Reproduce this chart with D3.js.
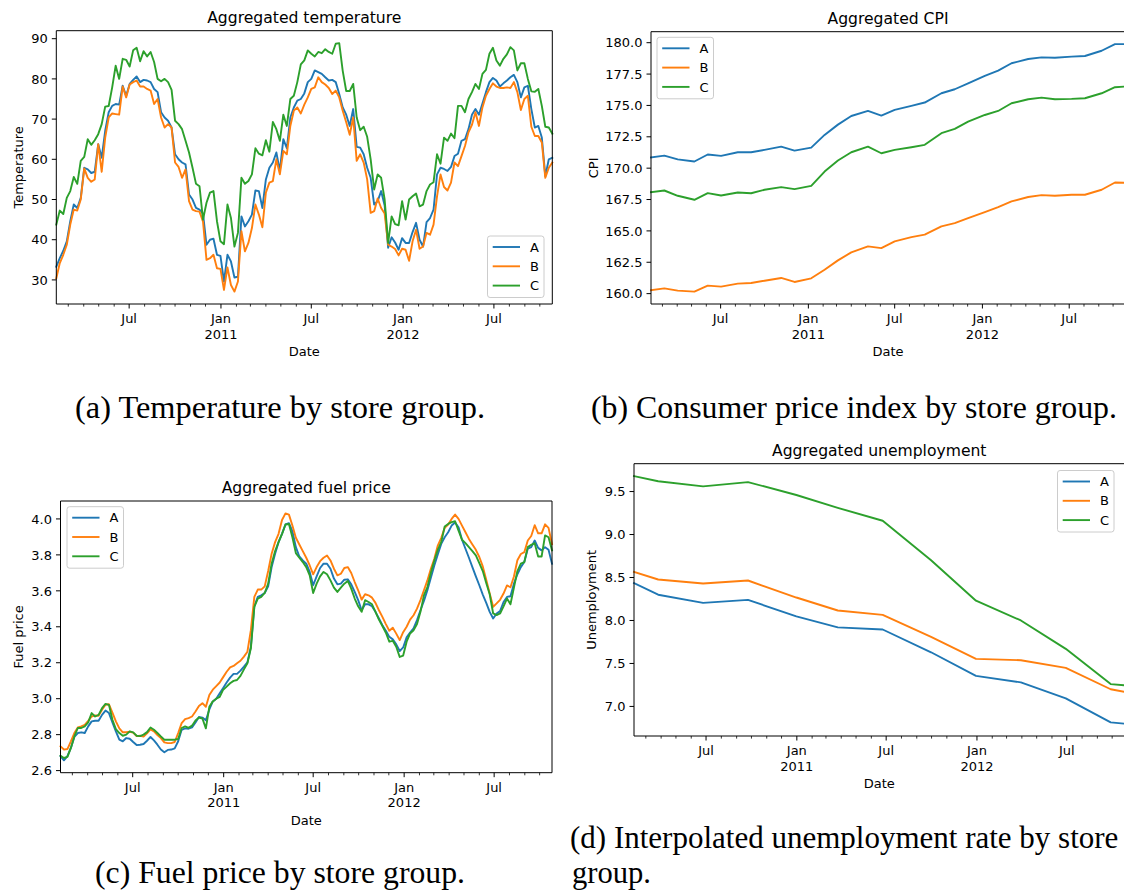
<!DOCTYPE html>
<html><head><meta charset="utf-8">
<script src="https://cdn.jsdelivr.net/npm/d3@7"></script>
<style>
body{margin:0;background:#fff}
svg{display:block}
text{font-family:"DejaVu Sans",sans-serif;fill:#000}
.cap{font-family:"Liberation Serif","DejaVu Serif",serif}
</style>
</head><body>
<svg id="fig" width="1124" height="891"></svg>
<script>
// ---- shared series info ----
const seriesNames = ["A", "B", "C"];
const seriesColors = ["#1f77b4", "#ff7f0e", "#2ca02c"];
const firstWeek = "2010-02-05";
const lastWeek = "2012-10-26";

// ---- weekly temperature (deg F) per store group ----
const temperatureA = [33.3,35.4,37.25,39.6,44.6,48.75,47.9,50.4,57.9,57.5,56.6,56.9,63.75,60.4,67.1,71.7,73.3,73.75,73.6,78.3,75.8,78.75,79.75,80.6,79.2,79.75,79.6,79.2,77.5,76.7,71.7,70.4,69.6,67.9,61.25,60,59.2,58.75,51.25,50,47.9,47.5,46.5,38.75,40,40.25,36.25,
  36,29.6,36.25,34.6,30.6,30.8,45.8,43.3,44.6,46.25,52.25,52.1,47.9,55,57.9,59.2,61.7,57.1,65,62.75,70.4,72.9,74.6,75,76.4,79.2,80,82.1,81.7,81.25,80.4,79.6,79.75,79.2,76.25,72.9,71.1,68.3,72.5,63.1,62.9,61.25,57.9,55.4,48.75,49.6,52.1,48.5,38,
  40.6,39.3,37.5,40.4,39.2,39.2,41.9,44.2,40,38.3,44.4,45.4,47.5,56.25,57.9,57.6,57.1,58.1,60.8,61.4,64.6,65,67.5,71.1,72.5,71.1,73.9,76.7,79.2,80.25,79.6,78.1,78.9,79.6,80.4,81,79.2,75.4,77.9,78.3,72.5,67.9,68.3,65.4,55.8,60,60.4];
const temperatureB = [30.4,34.2,36.25,38.75,43.75,47.5,47.25,50,57.75,55.4,54.4,55,63.75,56.9,65.4,70.4,71.4,71.25,71.1,78.1,75.4,78.6,79.2,79.6,78.1,78.1,77.5,77.1,73.75,75,70.4,67.9,68.75,67.9,59.2,58.1,55.4,57.5,49.6,47.5,47.1,47,44.5,35,35.4,36.25,32.9,
  32.75,27.5,33.1,28.75,27.1,29.6,42.1,37.1,39.2,42.9,48.75,46.25,43.1,51.7,54.2,54.6,60,56.25,62.1,61.25,68.3,72.1,72.9,71.4,73.6,75.4,77.5,77.9,80.4,79.2,78.6,77.75,76.25,77.1,75.4,72.1,69.2,66.1,70.4,59.6,61.25,59.2,55,46.7,47.1,50.25,47.9,46.5,38.75,
  38.3,37.7,36.1,37.75,37.5,34.75,39.6,42.5,37.75,38.3,41.7,41.25,43.75,50.8,56.25,53.1,52.25,54.2,59.2,58.3,60.8,63.3,66.7,68.6,71.7,68.3,72.9,75.8,77.5,78.9,78.1,77.75,77.75,77.9,77.75,79.2,76.7,72.25,75,75.8,68.1,65.8,65.8,64.2,55.4,57.9,59.2];
const temperatureC = [43.75,47.25,46.4,50.4,52.1,55.6,53.9,59.6,60.6,65,63.6,64.75,66.25,68.75,73.1,73.25,77.9,83.3,80,85,84.75,83.1,87.1,87.75,84.4,86.9,85.6,86.7,84.2,80,79.4,80,79.2,77.25,69.6,68.75,67.5,64.6,61.7,57.9,53.9,53.3,45,49.2,51.7,52.1,44.6,
  39.6,38.9,48.75,45.4,38.3,41.7,55.4,53.9,54.6,56.25,62.75,61.4,61,64.75,61.9,69.3,67.5,64.6,71.1,68.3,75,75.8,79.2,83.6,84.6,87.1,86.25,85.6,86.7,86.4,87.4,86.7,86.25,88.75,88.9,82,77,77,78.75,70.4,67.25,68.1,65.6,60,52.5,56.25,55.4,50,39.2,
  45.8,43.9,43.6,49.6,45,50,50.8,51.5,48.3,48.75,52.1,53.75,54.3,61.25,58.9,65.4,64.6,66.4,65.25,73.3,73.3,71.7,75,76.7,78.75,77.5,81.25,82.25,86.25,87.75,84.6,83.3,85,86.1,87.9,87.1,82.1,83.9,83.9,80,76.9,76.8,77.5,73.3,68.1,67.9,66.4];

// ---- weekly fuel price ($/gal) per store group ----
const fuelA = [2.680,2.657,2.680,2.726,2.787,2.809,2.813,2.809,2.846,2.874,2.877,2.877,2.910,2.934,2.920,2.868,2.818,2.772,2.763,2.781,2.777,2.759,2.742,2.744,2.748,2.766,2.787,2.768,2.744,2.717,2.702,2.715,2.717,2.724,2.763,2.827,2.835,2.833,2.840,2.868,2.898,2.895,2.880,2.940,2.985,3.000,3.030,3.060,3.090,
  3.117,3.138,3.138,3.156,3.178,3.202,3.289,3.514,3.566,3.575,3.588,3.625,3.732,3.806,3.871,3.917,3.969,3.976,3.932,3.843,3.791,3.769,3.751,3.705,3.631,3.680,3.727,3.751,3.751,3.723,3.668,3.636,3.640,3.662,3.664,3.636,3.594,3.548,3.492,3.525,3.525,3.514,3.483,3.446,3.409,3.378,3.344,
  3.330,3.302,3.265,3.285,3.341,3.368,3.391,3.437,3.492,3.544,3.603,3.673,3.741,3.802,3.861,3.898,3.926,3.963,3.980,3.954,3.884,3.834,3.784,3.732,3.680,3.631,3.579,3.533,3.483,3.446,3.474,3.487,3.538,3.566,3.570,3.640,3.692,3.732,3.760,3.834,3.843,3.880,3.839,3.825,3.843,3.828,3.751];
const fuelB = [2.735,2.717,2.720,2.763,2.809,2.840,2.846,2.855,2.877,2.901,2.907,2.905,2.938,2.966,2.969,2.923,2.874,2.835,2.813,2.813,2.816,2.811,2.792,2.794,2.789,2.807,2.829,2.818,2.798,2.781,2.757,2.753,2.753,2.759,2.809,2.864,2.886,2.892,2.901,2.929,2.960,2.975,2.955,3.020,3.050,3.070,3.090,3.120,3.150,
  3.174,3.182,3.197,3.211,3.234,3.261,3.381,3.566,3.607,3.607,3.625,3.710,3.806,3.871,3.917,3.994,4.031,4.024,3.963,3.895,3.858,3.821,3.784,3.741,3.692,3.732,3.765,3.784,3.797,3.769,3.723,3.686,3.695,3.727,3.732,3.699,3.649,3.603,3.551,3.581,3.575,3.562,3.533,3.492,3.455,3.415,3.378,
  3.395,3.362,3.326,3.370,3.400,3.440,3.464,3.501,3.548,3.603,3.658,3.723,3.778,3.852,3.895,3.950,3.969,4.000,4.024,4.000,3.963,3.926,3.889,3.858,3.828,3.788,3.736,3.662,3.585,3.511,3.530,3.550,3.585,3.630,3.620,3.680,3.770,3.805,3.815,3.880,3.905,3.965,3.920,3.920,3.970,3.950,3.860];
const fuelC = [2.683,2.670,2.676,2.726,2.790,2.837,2.837,2.846,2.868,2.920,2.901,2.910,2.947,2.971,2.966,2.883,2.831,2.809,2.794,2.800,2.818,2.813,2.794,2.792,2.800,2.814,2.840,2.827,2.809,2.790,2.772,2.772,2.772,2.772,2.776,2.837,2.846,2.838,2.850,2.879,2.895,2.890,2.835,2.955,2.985,3.000,3.010,3.050,3.067,
  3.086,3.099,3.104,3.127,3.163,3.197,3.280,3.511,3.557,3.566,3.588,3.640,3.751,3.821,3.871,3.917,3.969,3.972,3.898,3.810,3.784,3.760,3.732,3.686,3.588,3.640,3.680,3.705,3.692,3.658,3.618,3.594,3.618,3.640,3.655,3.612,3.557,3.514,3.483,3.548,3.538,3.525,3.483,3.440,3.404,3.367,3.317,
  3.322,3.289,3.232,3.240,3.317,3.363,3.381,3.415,3.483,3.575,3.621,3.699,3.769,3.828,3.871,3.958,3.972,3.982,3.987,3.935,3.884,3.865,3.843,3.821,3.797,3.754,3.710,3.644,3.581,3.474,3.465,3.474,3.514,3.557,3.525,3.618,3.710,3.751,3.760,3.843,3.856,3.865,3.791,3.791,3.908,3.898,3.825];

// ---- monthly CPI per store group ----
const cpiDates = ["2010-02-05","2010-03-05","2010-04-02","2010-05-07","2010-06-04","2010-07-02","2010-08-06","2010-09-03","2010-10-01","2010-11-05","2010-12-03",
  "2011-01-07","2011-02-04","2011-03-04","2011-04-01","2011-05-06","2011-06-03","2011-07-01","2011-08-05","2011-09-02","2011-10-07","2011-11-04","2011-12-02",
  "2012-01-06","2012-02-03","2012-03-02","2012-04-06","2012-05-04","2012-06-01","2012-07-06","2012-08-03","2012-09-07","2012-10-05","2012-10-26"];
const cpiA = [170.85,171.0,170.7,170.53,171.09,170.98,171.27,171.27,171.46,171.72,171.4,171.64,172.65,173.47,174.16,174.56,174.19,174.64,174.96,175.23,175.97,176.29,176.76,177.35,177.77,178.36,178.7,178.83,178.8,178.89,178.94,179.36,179.89,179.89];
const cpiB = [160.27,160.42,160.24,160.16,160.64,160.56,160.8,160.85,161.03,161.25,160.93,161.22,161.9,162.65,163.29,163.77,163.63,164.16,164.5,164.7,165.36,165.62,166.02,166.5,166.9,167.35,167.7,167.85,167.8,167.88,167.88,168.28,168.86,168.83];
const cpiC = [168.09,168.22,167.8,167.48,168.01,167.82,168.06,168.0,168.28,168.49,168.33,168.59,169.73,170.61,171.27,171.72,171.19,171.46,171.67,171.86,172.79,173.13,173.71,174.24,174.56,175.17,175.49,175.62,175.49,175.52,175.57,175.97,176.45,176.5];

// ---- quarterly unemployment rate (%) per store group, linearly interpolated ----
const unempDates = ["2010-02-05","2010-03-26","2010-06-25","2010-09-24","2010-12-31","2011-03-25","2011-06-24","2011-09-30","2011-12-30","2012-03-30","2012-06-29","2012-09-28","2012-10-26"];
const unempA = [8.434,8.30,8.205,8.24,8.047,7.92,7.895,7.63,7.356,7.28,7.093,6.814,6.80];
const unempB = [8.565,8.477,8.43,8.465,8.267,8.116,8.065,7.81,7.553,7.538,7.449,7.20,7.17];
const unempC = [9.68,9.62,9.56,9.61,9.46,9.31,9.16,8.70,8.23,8.00,7.67,7.26,7.245];

// ---- tick values ----
const tempTicks = [30,40,50,60,70,80,90];
const cpiTicks = [160,162.5,165,167.5,170,172.5,175,177.5,180];
const fuelTicks = [2.6,2.8,3.0,3.2,3.4,3.6,3.8,4.0];
const unempTicks = [7.0,7.5,8.0,8.5,9.0,9.5];

// ---- helpers ----
const parse = d3.timeParse("%Y-%m-%d");
const t0 = parse(firstWeek), t1 = parse(lastWeek);
const weeks = d3.range(temperatureA.length).map(i => d3.timeDay.offset(t0, 7 * i));
const svg = d3.select("#fig");
svg.append("rect").attr("width", 1124).attr("height", 891).attr("fill", "#fff");

const FS = 13, TITLE_FS = 15.6, LW = 1.9;

function drawPanel(p) {
  const g = svg.append("g");
  const {l, r, t, b} = p.box;
  const x = d3.scaleTime().domain([t0, t1]).range([l, r]);
  const all = p.values.flat();
  const [lo, hi] = d3.extent(all);
  const pad = (hi - lo) * 0.05;
  const y = d3.scaleLinear().domain([lo - pad, hi + pad]).range([b, t]);

  // series lines
  const line = d3.line().x(d => x(d[0])).y(d => y(d[1]));
  p.values.forEach((vals, k) => {
    const pts = vals.map((v, i) => [p.dates[i], v]);
    g.append("path").attr("d", line(pts)).attr("fill", "none")
      .attr("stroke", seriesColors[k]).attr("stroke-width", LW)
      .attr("stroke-linejoin", "round").attr("stroke-linecap", "square");
  });

  // spines
  const sp = g.append("g").attr("stroke", "#000").attr("stroke-width", 1).attr("fill", "none");
  sp.append("line").attr("x1", l).attr("x2", l).attr("y1", t).attr("y2", b);
  sp.append("line").attr("x1", r).attr("x2", r).attr("y1", t).attr("y2", b);
  sp.append("line").attr("x1", l).attr("x2", r).attr("y1", t).attr("y2", t);
  sp.append("line").attr("x1", l).attr("x2", r).attr("y1", b).attr("y2", b);

  // x ticks: monthly minor, Jan/Jul major
  const months = d3.timeMonth.range(d3.timeMonth.ceil(t0), t1);
  months.forEach(m => {
    const major = m.getMonth() === 0 || m.getMonth() === 6;
    const xx = x(m);
    g.append("line").attr("x1", xx).attr("x2", xx).attr("y1", b).attr("y2", b + (major ? 4.5 : 2.6))
      .attr("stroke", "#000").attr("stroke-width", major ? 1 : 0.8);
    if (major) {
      g.append("text").attr("x", xx).attr("y", b + 19).attr("text-anchor", "middle")
        .attr("font-size", FS).text(m.getMonth() === 6 ? "Jul" : "Jan");
      if (m.getMonth() === 0) {
        g.append("text").attr("x", xx).attr("y", b + 34.5).attr("text-anchor", "middle")
          .attr("font-size", FS).text(d3.timeFormat("%Y")(m));
      }
    }
  });

  // y ticks
  p.yTicks.forEach(v => {
    const yy = y(v);
    g.append("line").attr("x1", l - 4.5).attr("x2", l).attr("y1", yy).attr("y2", yy)
      .attr("stroke", "#000").attr("stroke-width", 1);
    g.append("text").attr("x", l - 8.5).attr("y", yy).attr("dy", "0.36em")
      .attr("text-anchor", "end").attr("font-size", FS).text(p.yFmt(v));
  });

  // labels and title
  const cx = (l + r) / 2;
  g.append("text").attr("x", cx).attr("y", t - 7.8).attr("text-anchor", "middle")
    .attr("font-size", TITLE_FS).text(p.title);
  g.append("text").attr("x", cx).attr("y", b + 52).attr("text-anchor", "middle")
    .attr("font-size", FS).text("Date");
  g.append("text").attr("transform", `translate(${p.ylabelX},${(t + b) / 2}) rotate(-90)`)
    .attr("text-anchor", "middle").attr("font-size", FS).text(p.ylabel);

  // legend
  const lg = g.append("g").attr("transform", `translate(${p.legend[0]},${p.legend[1]})`);
  lg.append("rect").attr("x", 0).attr("y", 0).attr("width", 56.5).attr("height", 61.5)
    .attr("rx", 2.6).attr("fill", "#fff").attr("fill-opacity", 0.8)
    .attr("stroke", "#cccccc").attr("stroke-width", 1);
  seriesNames.forEach((name, k) => {
    const ry = 11 + k * 19.3;
    lg.append("line").attr("x1", 5.2).attr("x2", 32.5).attr("y1", ry).attr("y2", ry)
      .attr("stroke", seriesColors[k]).attr("stroke-width", LW);
    lg.append("text").attr("x", 42.5).attr("y", ry).attr("dy", "0.36em")
      .attr("font-size", FS).text(name);
  });
}

const fmt0 = d3.format(".0f"), fmt1 = d3.format(".1f");

drawPanel({
  box: {l: 56.3, r: 552.3, t: 30.7, b: 304},
  title: "Aggregated temperature", ylabel: "Temperature", ylabelX: 22.5,
  dates: weeks, values: [temperatureA, temperatureB, temperatureC],
  yTicks: tempTicks, yFmt: fmt0, legend: [487.5, 236]
});
drawPanel({
  box: {l: 651, r: 1125, t: 31.7, b: 304},
  title: "Aggregated CPI", ylabel: "CPI", ylabelX: 597.5,
  dates: cpiDates.map(parse), values: [cpiA, cpiB, cpiC],
  yTicks: cpiTicks, yFmt: fmt1, legend: [657, 37.3]
});
drawPanel({
  box: {l: 60.5, r: 552, t: 501, b: 772.7},
  title: "Aggregated fuel price", ylabel: "Fuel price", ylabelX: 22.5,
  dates: weeks, values: [fuelA, fuelB, fuelC],
  yTicks: fuelTicks, yFmt: fmt1, legend: [67, 506.7]
});
drawPanel({
  box: {l: 634, r: 1124.5, t: 463.7, b: 736},
  title: "Aggregated unemployment", ylabel: "Unemployment", ylabelX: 595.5,
  dates: unempDates.map(parse), values: [unempA, unempB, unempC],
  yTicks: unempTicks, yFmt: fmt1, legend: [1057.5, 470.5]
});

// ---- sub-figure captions ----
const captions = [
  {x: 75, y: 418, w: 410, fs: 31.5, s: "(a) Temperature by store group."},
  {x: 591, y: 418, w: 526, fs: 31.5, s: "(b) Consumer price index by store group."},
  {x: 95, y: 883, w: 370, fs: 31.5, s: "(c) Fuel price by store group."},
  {x: 570, y: 848, w: null, fs: 31, s: "(d) Interpolated unemployment rate by store"},
  {x: 572, y: 883, w: 79, fs: 31.5, s: "group."}
];
captions.forEach(c => {
  const tx = svg.append("text").attr("class", "cap").attr("x", c.x).attr("y", c.y)
    .attr("font-size", c.fs).text(c.s);
  if (c.w) tx.attr("textLength", c.w).attr("lengthAdjust", "spacingAndGlyphs");
});
</script>
</body></html>
